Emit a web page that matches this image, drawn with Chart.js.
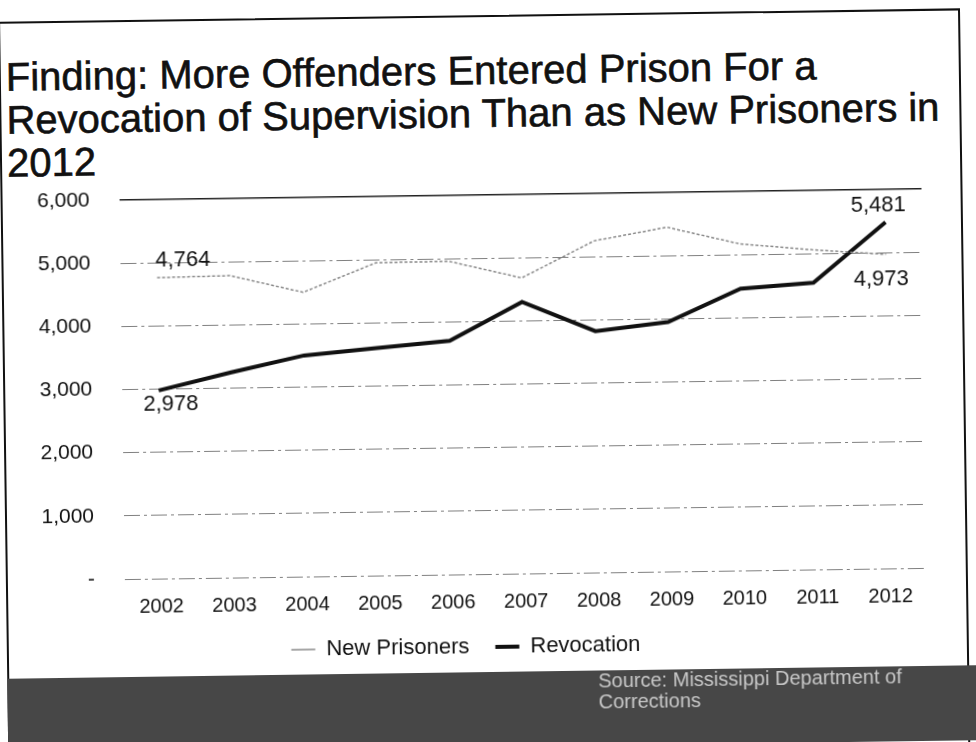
<!DOCTYPE html>
<html>
<head>
<meta charset="utf-8">
<script src="https://cdn.jsdelivr.net/npm/chart.js@4"></script>
<style>
html, body { margin: 0; padding: 0; background: #fff; }
body { width: 976px; height: 742px; overflow: hidden; position: relative; font-family: "Liberation Sans", Arial, sans-serif; }
#slide { position: absolute; left: 0; top: 0; width: 976px; height: 742px; transform: rotate(-0.8deg); transform-origin: 488px 371px; }
#frame { position: absolute; left: 3px; top: 15px; width: 962px; height: 740px; border: 2px solid #111; box-sizing: border-box; }
#title { position: absolute; left: 10px; top: 49px; font-size: 40px; line-height: 43px; color: #111; -webkit-text-stroke: 0.6px #111; }
#wrap { position: absolute; left: 0; top: 178px; width: 976px; height: 494px; }
#footer { position: absolute; left: 3px; top: 672px; width: 975px; height: 75px; background: #474747; }
#source { position: absolute; left: 594px; top: 672px; font-size: 20px; line-height: 21px; color: #c8c8c8; }
</style>
</head>
<body>
<div id="slide">
    <div id="frame"></div>
    <div id="title">Finding: More Offenders Entered Prison For a<br>Revocation of Supervision Than as New Prisoners in<br>2012</div>
    <div id="wrap"><canvas id="chart"></canvas></div>
    <div id="footer"></div>
    <div id="source">Source: Mississippi Department of<br>Corrections</div>
</div>
<script>
const years = ['2002', '2003', '2004', '2005', '2006', '2007', '2008', '2009', '2010', '2011', '2012'];
const newPrisoners = [4764, 4780, 4500, 4950, 4960, 4680, 5250, 5450, 5170, 5060, 4973];
const revocation = [2978, 3250, 3500, 3600, 3700, 4300, 3820, 3950, 4460, 4540, 5481];
const yTicks = [0, 1000, 2000, 3000, 4000, 5000, 6000];

const font = '"Liberation Sans", Arial, sans-serif';

// first and last value of each line get a label
const pointLabels = {
    id: 'pointLabels',
    afterDatasetsDraw(chart) {
        const ctx = chart.ctx;
        ctx.save();
        ctx.font = '22px ' + font;
        ctx.fillStyle = '#111';
        ctx.textBaseline = 'middle';
        ctx.textAlign = 'center';
        const spots = [
            [0, 0, 26, -17],
            [0, 10, -5, 25],
            [1, 0, 12, 14],
            [1, 10, -7, -17]
        ];
        spots.forEach(function (s) {
            const pt = chart.getDatasetMeta(s[0]).data[s[1]];
            const v = chart.data.datasets[s[0]].data[s[1]];
            ctx.fillText(v.toLocaleString('en-US'), pt.x + s[2], pt.y + s[3]);
        });
        ctx.restore();
    }
};

new Chart(document.getElementById('chart'), {
    type: 'line',
    data: {
        labels: years,
        datasets: [
            {
                label: 'New Prisoners',
                data: newPrisoners,
                borderColor: '#8a8a8a',
                backgroundColor: '#8a8a8a',
                borderWidth: 1.5,
                borderDash: [3, 2],
                pointRadius: 0,
                fill: false
            },
            {
                label: 'Revocation',
                data: revocation,
                borderColor: '#111',
                backgroundColor: '#111',
                borderWidth: 4,
                pointRadius: 0,
                fill: false
            }
        ]
    },
    options: {
        responsive: true,
        maintainAspectRatio: false,
        animation: false,
        layout: {
            padding: { left: 0, right: 52, top: 17, bottom: 4 }
        },
        plugins: {
            legend: {
                position: 'bottom',
                labels: {
                    usePointStyle: true,
                    pointStyle: 'line',
                    pointStyleWidth: 24,
                    color: '#111',
                    font: { size: 22, family: font },
                    padding: 26
                }
            },
            tooltip: { enabled: false }
        },
        scales: {
            x: {
                offset: true,
                grid: { display: false },
                border: { display: false },
                ticks: {
                    color: '#111',
                    font: { size: 20, family: font },
                    padding: 8
                },
                afterFit: function (scale) { scale.height = 36; }
            },
            y: {
                min: 0,
                max: 6000,
                border: {
                    display: false,
                    dash: function (c) { return c.tick && c.tick.value === 6000 ? [] : [16, 4, 3, 4]; }
                },
                grid: {
                    color: function (c) { return c.tick && c.tick.value === 6000 ? '#222' : '#808080'; },
                    lineWidth: function (c) { return c.tick && c.tick.value === 6000 ? 1.5 : 1; },
                    drawTicks: false
                },
                afterBuildTicks: function (scale) {
                    scale.ticks = yTicks.map(function (v) { return { value: v }; });
                },
                ticks: {
                    color: '#111',
                    font: { size: 21, family: font },
                    padding: 30,
                    callback: function (v) { return v === 0 ? '-' : v.toLocaleString('en-US'); }
                },
                afterFit: function (scale) {
                    scale.width = 122;
                    scale.paddingTop = 10;
                    scale.paddingBottom = 10;
                }
            }
        }
    },
    plugins: [pointLabels]
});
</script>
</body>
</html>
